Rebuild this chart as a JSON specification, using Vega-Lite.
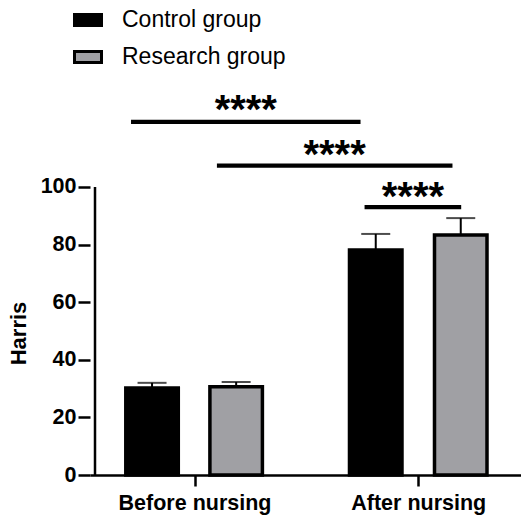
{
  "$schema": "https://vega.github.io/schema/vega-lite/v6.json",
  "width": 431,
  "height": 475,
  "autosize": {"type": "none"},
  "padding": {"left": 90, "top": 0, "right": 0, "bottom": 41},
  "background": "white",
  "config": {
    "view": {"stroke": null},
    "font": "Liberation Sans",
    "axis": {
      "grid": false,
      "domainColor": "black", "domainWidth": 2.5,
      "tickColor": "black", "tickWidth": 2.5,
      "labelFont": "Liberation Sans", "labelFontWeight": "bold", "labelFontSize": 21.5,
      "labelColor": "black",
      "titleFont": "Liberation Sans", "titleFontWeight": "bold", "titleFontSize": 22,
      "titleColor": "black"
    },
    "axisX": {"tickSize": 11, "labelPadding": 6, "labelFlush": false},
    "axisY": {"tickSize": 12, "labelPadding": 2, "domain": false}
  },
  "datasets": {
    "bars": [
      {"time": "Before nursing", "group": "Control group", "pos": 0.81, "mean": 30.2, "upper": 32.0},
      {"time": "Before nursing", "group": "Research group", "pos": 1.186, "mean": 30.6, "upper": 32.3},
      {"time": "After nursing", "group": "Control group", "pos": 1.81, "mean": 78.1, "upper": 83.7},
      {"time": "After nursing", "group": "Research group", "pos": 2.19, "mean": 83.3, "upper": 89.2}
    ],
    "sig": [
      {"x1": 0.716, "x2": 1.742, "y": 122.6, "xm": 1.229, "ys": 129.9, "label": "****"},
      {"x1": 1.100, "x2": 2.153, "y": 107.4, "xm": 1.626, "ys": 114.1, "label": "****"},
      {"x1": 1.760, "x2": 2.192, "y": 93.0, "xm": 1.976, "ys": 99.5, "label": "****"}
    ],
    "yaxis": [{"y0": 0, "y1": 100}]
  },
  "layer": [
    {
      "data": {"name": "yaxis"},
      "mark": {"type": "rule", "strokeWidth": 2.5, "color": "black"},
      "encoding": {
        "x": {"datum": 0.555, "type": "quantitative"},
        "y": {"field": "y0", "type": "quantitative"},
        "y2": {"field": "y1"}
      }
    },
    {
      "data": {"name": "bars"},
      "mark": {"type": "bar", "width": 52.5, "stroke": "black", "strokeWidth": 3.5},
      "encoding": {
        "x": {
          "field": "pos", "type": "quantitative",
          "scale": {"domain": [0.555, 2.437], "nice": false, "zero": false},
          "axis": {
            "title": null,
            "values": [1, 2],
            "labelExpr": "datum.value == 1 ? 'Before nursing' : 'After nursing'"
          }
        },
        "y": {
          "field": "mean", "type": "quantitative",
          "scale": {"domain": [0, 164.93], "nice": false},
          "axis": {
            "title": "Harris",
            "values": [0, 20, 40, 60, 80, 100],
            "titleFontSize": 22,
            "titleX": -60, "titleY": 333, "titleAlign": "center",
            "titleBaseline": "bottom"
          }
        },
        "fill": {
          "field": "group", "type": "nominal",
          "scale": {"domain": ["Control group", "Research group"], "range": ["#000000", "#a0a0a4"]},
          "legend": {
            "title": null,
            "orient": "none",
            "legendX": -17,
            "legendY": 5,
            "symbolType": "M-1,-0.407H1V0.407H-1Z",
            "symbolSize": 729,
            "symbolStrokeColor": "black",
            "symbolStrokeWidth": 3,
            "labelFont": "Liberation Sans",
            "labelFontSize": 23,
            "labelColor": "black",
            "labelOffset": 19,
            "labelLimit": 0,
            "rowPadding": 10,
            "padding": 0
          }
        }
      }
    },
    {
      "data": {"name": "bars"},
      "mark": {"type": "rule", "strokeWidth": 2, "color": "black"},
      "encoding": {
        "x": {"field": "pos", "type": "quantitative"},
        "y": {"field": "mean", "type": "quantitative"},
        "y2": {"field": "upper"}
      }
    },
    {
      "data": {"name": "bars"},
      "mark": {"type": "tick", "orient": "horizontal", "size": 29, "thickness": 2, "color": "black"},
      "encoding": {
        "x": {"field": "pos", "type": "quantitative"},
        "y": {"field": "upper", "type": "quantitative"}
      }
    },
    {
      "data": {"name": "sig"},
      "mark": {"type": "rule", "strokeWidth": 4.2, "color": "black"},
      "encoding": {
        "x": {"field": "x1", "type": "quantitative"},
        "x2": {"field": "x2"},
        "y": {"field": "y", "type": "quantitative"}
      }
    },
    {
      "data": {"name": "sig"},
      "mark": {"type": "text", "font": "Liberation Sans", "fontWeight": "bold", "fontSize": 40, "baseline": "alphabetic", "dy": 22, "align": "center", "color": "black"},
      "encoding": {
        "x": {"field": "xm", "type": "quantitative"},
        "y": {"field": "ys", "type": "quantitative"},
        "text": {"field": "label"}
      }
    }
  ]
}
